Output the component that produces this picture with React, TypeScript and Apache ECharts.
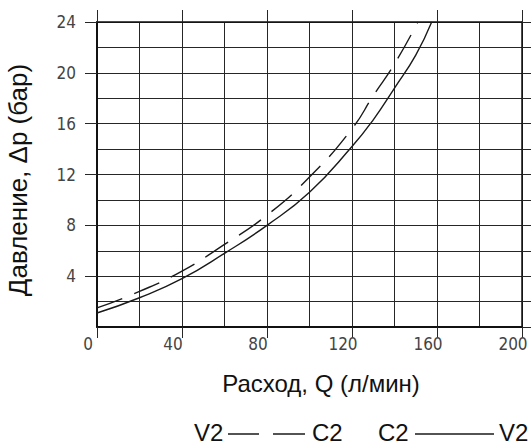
import React, { useEffect, useRef } from "react";
import * as echarts from "echarts";

// Axis ranges / ticks
const xMin = 0;
const xMax = 200;
const xLabelStep = 40;
const yMin = 0;
const yMax = 24;
const yLabelStep = 4;

// Curve C2 -> V2 (solid)
const flowC2V2 = [0, 20, 40, 60, 80, 100, 120, 130, 140, 150, 157.5];
const pressC2V2 = [1.1, 2.3, 3.8, 5.8, 8.0, 10.6, 14.2, 16.3, 18.8, 21.4, 24];

// Curve V2 -> C2 (dashed)
const flowV2C2 = [0, 20, 40, 60, 80, 100, 120, 130, 140, 151];
const pressV2C2 = [1.5, 2.8, 4.4, 6.5, 8.8, 11.8, 15.6, 18.2, 20.7, 24];

const xTitle = "Расход, Q (л/мин)";
const yTitle = "Давление, Δp (бар)";

const narrow = "'Liberation Sans Narrow', 'DejaVu Sans Condensed', sans-serif";
const sans = "'Liberation Sans', Arial, sans-serif";

export default function App() {
  const ref = useRef<HTMLDivElement>(null);

  useEffect(() => {
    document.body.style.margin = "0";
    if (!ref.current) return;
    const chart = echarts.init(ref.current, undefined, { renderer: "svg" });

    const lineColor = "#1a1a1a";
    const gridColor = "#262626";
    const legendFont = `24px ${sans}`;
    const legendY = 432;
    const legendLineY = 434;

    chart.setOption({
      animation: false,
      backgroundColor: "#ffffff",
      grid: { left: 97, right: 9, top: 22, bottom: 119, containLabel: false },
      xAxis: [
        {
          type: "value",
          position: "bottom",
          min: xMin,
          max: xMax,
          interval: xLabelStep,
          axisLine: { show: true, onZero: false, lineStyle: { color: "#111", width: 2 } },
          axisTick: { show: true, inside: false, length: 11, lineStyle: { color: gridColor, width: 1 } },
          axisLabel: {
            margin: 8,
            fontSize: 17,
            fontFamily: narrow,
            color: "#444",
            padding: [0, 18, 0, 0],
          },
          splitLine: { show: true, lineStyle: { color: gridColor, width: 1 } },
          minorTick: { show: false, splitNumber: 2 },
          minorSplitLine: { show: true, lineStyle: { color: gridColor, width: 1 } },
        },
        {
          type: "value",
          position: "top",
          min: xMin,
          max: xMax,
          interval: xLabelStep,
          axisLine: { show: true, onZero: false, lineStyle: { color: "#111", width: 1.5 } },
          axisTick: { show: true, inside: false, length: 12, lineStyle: { color: gridColor, width: 1 } },
          axisLabel: { show: false },
          splitLine: { show: false },
        },
      ],
      yAxis: [
        {
          type: "value",
          position: "left",
          min: yMin,
          max: yMax,
          interval: yLabelStep,
          axisLine: { show: true, onZero: false, lineStyle: { color: "#111", width: 2 } },
          axisTick: { show: true, inside: false, length: 12, lineStyle: { color: gridColor, width: 1 } },
          axisLabel: {
            margin: 21,
            fontSize: 17,
            fontFamily: narrow,
            color: "#444",
            showMinLabel: false,
          },
          splitLine: { show: true, lineStyle: { color: gridColor, width: 1 } },
          minorTick: { show: false, splitNumber: 2 },
          minorSplitLine: { show: true, lineStyle: { color: gridColor, width: 1 } },
        },
        {
          type: "value",
          position: "right",
          min: yMin,
          max: yMax,
          interval: 2,
          axisLine: { show: true, onZero: false, lineStyle: { color: "#111", width: 1.5 } },
          axisTick: { show: true, inside: false, length: 9, lineStyle: { color: gridColor, width: 1 } },
          axisLabel: { show: false },
          splitLine: { show: false },
        },
      ],
      series: [
        {
          name: "C2 → V2",
          type: "line",
          xAxisIndex: 0,
          yAxisIndex: 0,
          smooth: true,
          showSymbol: false,
          z: 5,
          lineStyle: { color: lineColor, width: 1.4, type: "solid" },
          data: flowC2V2.map((q, i) => [q, pressC2V2[i]]),
        },
        {
          name: "V2 → C2",
          type: "line",
          xAxisIndex: 0,
          yAxisIndex: 0,
          smooth: true,
          showSymbol: false,
          z: 5,
          lineStyle: { color: lineColor, width: 1.4, type: [27, 13] },
          data: flowV2C2.map((q, i) => [q, pressV2C2[i]]),
        },
      ],
      graphic: [
        {
          type: "text",
          x: 321,
          y: 383,
          style: {
            text: xTitle,
            font: `24px ${sans}`,
            fill: "#111",
            align: "center",
            verticalAlign: "middle",
          },
        },
        {
          type: "text",
          x: 18,
          y: 180,
          rotation: Math.PI / 2,
          style: {
            text: yTitle,
            font: `26px ${sans}`,
            fill: "#111",
            align: "center",
            verticalAlign: "middle",
          },
        },
        // legend 1: V2 - - C2 (dashed)
        {
          type: "text",
          x: 194,
          y: legendY,
          style: { text: "V2", font: legendFont, fill: "#111", align: "left", verticalAlign: "middle" },
        },
        {
          type: "line",
          shape: { x1: 228, y1: legendLineY, x2: 259, y2: legendLineY },
          style: { stroke: lineColor, lineWidth: 1.5 },
        },
        {
          type: "line",
          shape: { x1: 273, y1: legendLineY, x2: 305, y2: legendLineY },
          style: { stroke: lineColor, lineWidth: 1.5 },
        },
        {
          type: "text",
          x: 312,
          y: legendY,
          style: { text: "C2", font: legendFont, fill: "#111", align: "left", verticalAlign: "middle" },
        },
        // legend 2: C2 --- V2 (solid)
        {
          type: "text",
          x: 378,
          y: legendY,
          style: { text: "C2", font: legendFont, fill: "#111", align: "left", verticalAlign: "middle" },
        },
        {
          type: "line",
          shape: { x1: 415, y1: legendLineY, x2: 494, y2: legendLineY },
          style: { stroke: lineColor, lineWidth: 1.5 },
        },
        {
          type: "text",
          x: 499,
          y: legendY,
          style: { text: "V2", font: legendFont, fill: "#111", align: "left", verticalAlign: "middle" },
        },
      ],
    });

    return () => chart.dispose();
  }, []);

  return <div ref={ref} style={{ width: 531, height: 446 }} />;
}
